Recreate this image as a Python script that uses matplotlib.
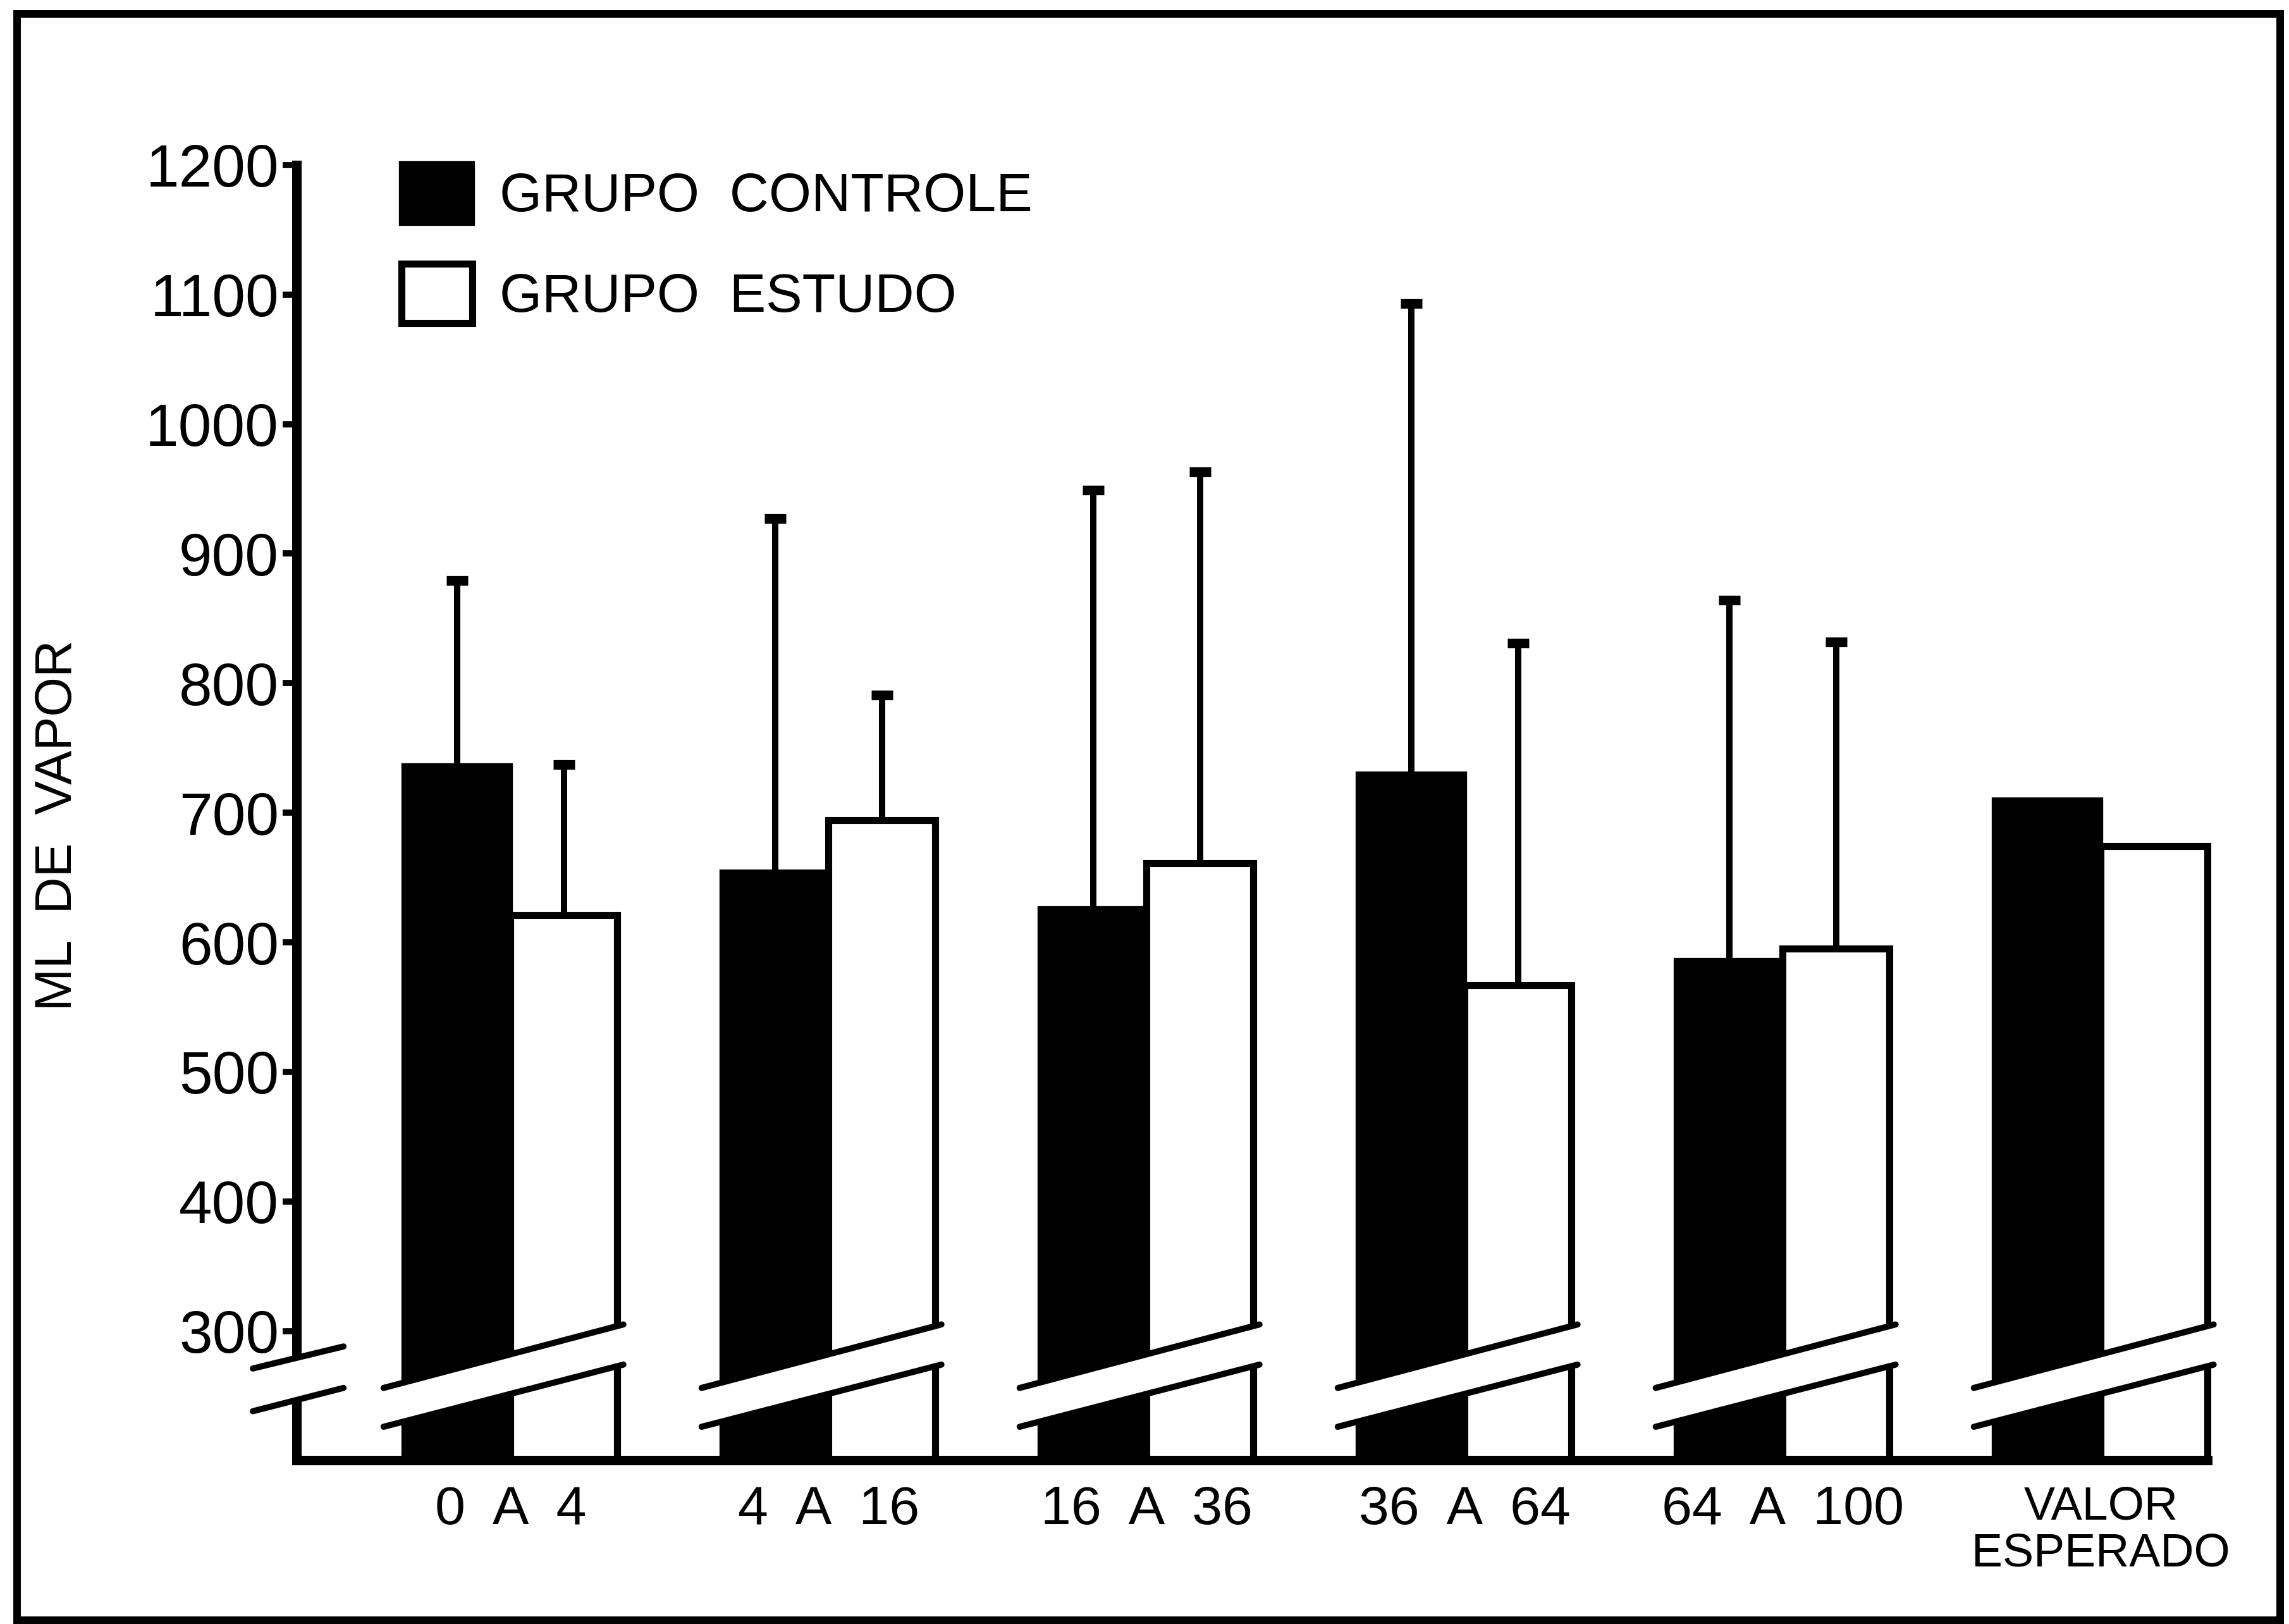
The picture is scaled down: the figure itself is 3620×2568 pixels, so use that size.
import numpy as np
import matplotlib
matplotlib.use("Agg")
import matplotlib.pyplot as plt
from matplotlib.patches import Patch, Polygon, Rectangle

plt.rcParams['font.family'] = ['Liberation Sans', 'DejaVu Sans']

# dados
grupos = ["0  A  4", "4  A  16", "16  A  36", "36  A  64", "64  A  100", "VALOR\nESPERADO"]
controle = [736, 654, 626, 730, 586, 710]
estudo = [621, 694, 661, 567, 595, 674]
dp_controle = [143, 273, 323, 363, 278]
dp_estudo = [116, 97, 302, 264, 237]
yticks = [300, 400, 500, 600, 700, 800, 900, 1000, 1100, 1200]
base = 200  # pe do eixo quebrado

fig = plt.figure(figsize=(18.1, 12.84), dpi=200)
ax = fig.add_axes([0.1295, 0.1007, 0.8348, 0.7977])

x = np.arange(len(grupos))
w = 0.335

ax.bar(x - w / 2, np.array(controle) - base, w, bottom=base, color='black',
       edgecolor='black', linewidth=3, zorder=2, clip_on=False)
ax.bar(x + w / 2, np.array(estudo) - base, w, bottom=base, color='white',
       edgecolor='black', linewidth=4, zorder=2, clip_on=False)

n = len(dp_controle)
for xs, med, dp in [(x[:n] - w / 2, controle[:n], dp_controle),
                    (x[:n] + w / 2, estudo[:n], dp_estudo)]:
    eb = ax.errorbar(xs, med, yerr=[np.zeros(n), dp], fmt='none', ecolor='black',
                     elinewidth=3.6, capsize=6, capthick=5.5, zorder=3)
    eb[1][0].set_visible(False)

ax.set_xlim(-0.673, 5.335)
ax.set_ylim(base, 1200)
ax.set_yticks(yticks)
ax.set_xticks(x, grupos)

for s in ['top', 'right']:
    ax.spines[s].set_visible(False)
ax.spines['left'].set_linewidth(5.4)
ax.spines['bottom'].set_linewidth(5.4)
ax.tick_params(axis='y', length=8, width=3.5, direction='out', pad=2, labelsize=34)
ax.tick_params(axis='x', length=0, pad=14, labelsize=31)
ultimo = ax.get_xticklabels()[-1]
ultimo.set_fontsize(26.5)
ultimo.set_linespacing(1.1)

# quebra do eixo
def faixa(x0, x1, yl0, yl1, yu0, yu1, clip=True):
    ax.add_patch(Polygon([[x0, yl0], [x1, yl1], [x1, yu1], [x0, yu0]], closed=True,
                         facecolor='white', edgecolor='none', zorder=6, clip_on=clip))
    ax.plot([x0, x1], [yu0, yu1], color='black', lw=3.5, zorder=7, clip_on=clip,
            solid_capstyle='round')
    ax.plot([x0, x1], [yl0, yl1], color='black', lw=3.5, zorder=7, clip_on=clip,
            solid_capstyle='round')

for xi in x:
    faixa(xi - w - 0.064, xi + w + 0.02, 226, 274, 256, 305, clip=False)
faixa(-0.81, -0.525, 238, 256, 271, 288, clip=False)

handles = [Patch(facecolor='black', edgecolor='black', linewidth=3),
           Patch(facecolor='white', edgecolor='black', linewidth=4)]
fig.legend(handles, ["GRUPO  CONTROLE", "GRUPO  ESTUDO"], loc='upper left',
           bbox_to_anchor=(275 / 1568, 1 - 112 / 1112), frameon=False, fontsize=31,
           handlelength=1.3, handleheight=1.3, handletextpad=0.5,
           labelspacing=0.75, borderpad=0, borderaxespad=0)

fig.text(40 / 1568, 1 - 565 / 1112, "ML  DE  VAPOR", rotation=90, fontsize=29,
         ha='center', va='center')

fig.patches.append(Rectangle((27 / 3620, 1 - 2562 / 2568), (3606 - 27) / 3620,
                             (2562 - 22) / 2568, transform=fig.transFigure,
                             fill=False, edgecolor='black', linewidth=4.3))

fig.savefig("out.png", dpi=200)
